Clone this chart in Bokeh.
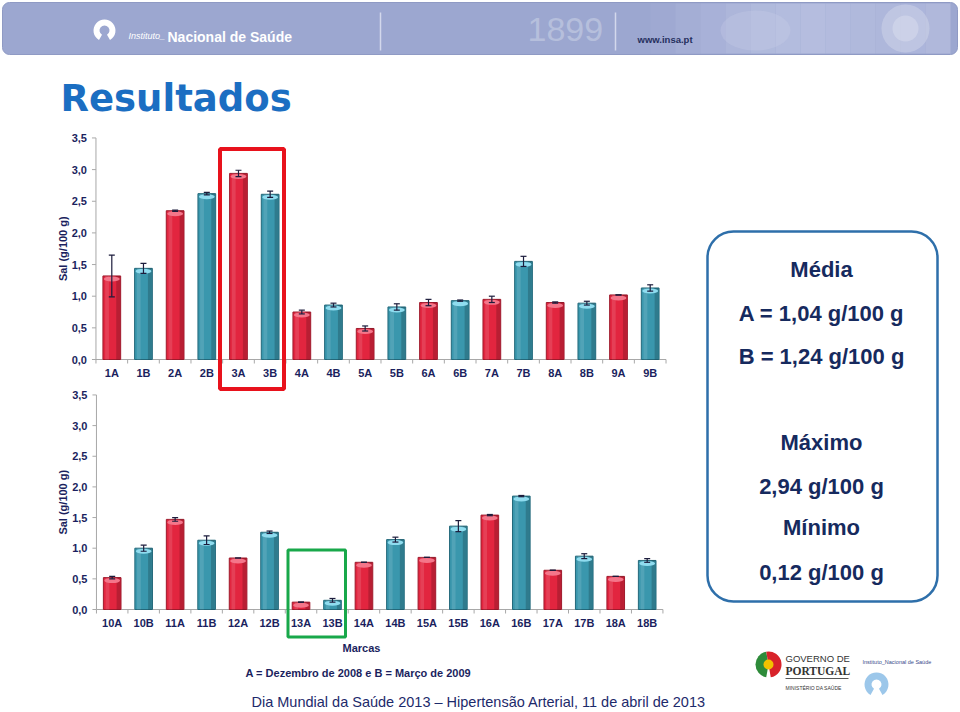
import math
from bokeh.plotting import figure
from bokeh.models import Range1d, BoxAnnotation
from bokeh.embed import file_html
from bokeh.resources import INLINE
from bokeh.core.properties import value

# ---------------- data ----------------
top_cats = ["1A", "1B", "2A", "2B", "3A", "3B", "4A", "4B", "5A", "5B",
            "6A", "6B", "7A", "7B", "8A", "8B", "9A", "9B"]
top_vals = [1.32, 1.44, 2.35, 2.62, 2.94, 2.61, 0.75, 0.86, 0.49, 0.83,
            0.90, 0.93, 0.95, 1.55, 0.90, 0.89, 1.02, 1.13]
top_errs = [0.33, 0.08, 0.01, 0.02, 0.05, 0.05, 0.03, 0.03, 0.04, 0.05,
            0.05, 0.01, 0.05, 0.08, 0.01, 0.03, 0.00, 0.05]

bot_cats = ["10A", "10B", "11A", "11B", "12A", "12B", "13A", "13B", "14A", "14B",
            "15A", "15B", "16A", "16B", "17A", "17B", "18A", "18B"]
bot_vals = [0.52, 1.00, 1.47, 1.13, 0.84, 1.26, 0.12, 0.15, 0.77, 1.14,
            0.85, 1.36, 1.54, 1.85, 0.64, 0.87, 0.54, 0.80]
bot_errs = [0.02, 0.05, 0.03, 0.07, 0.00, 0.02, 0.00, 0.03, 0.00, 0.04,
            0.00, 0.09, 0.01, 0.01, 0.00, 0.04, 0.00, 0.03]

y_ticks = [0.0, 0.5, 1.0, 1.5, 2.0, 2.5, 3.0, 3.5]
y_tick_labels = ["0,0", "0,5", "1,0", "1,5", "2,0", "2,5", "3,0", "3,5"]

y_label = "Sal (g/100 g)"
x_label = "Marcas"
note = "A = Dezembro de 2008 e B = Março de 2009"
footer = "Dia Mundial da Saúde 2013 \u2013 Hipertensão Arterial, 11 de abril de 2013"
box_lines = ["Média", "A = 1,04 g/100 g", "B = 1,24 g/100 g",
             "Máximo", "2,94 g/100 g", "Mínimo", "0,12 g/100 g"]

# ---------------- styles ----------------
RED, RED_EDGE, RED_CAP = "#e2253f", "#9e1a2c", "#f4768a"
TEAL, TEAL_EDGE, TEAL_CAP = "#3a97ad", "#23687a", "#8fdcef"
NAVY = "#1b1f5e"
AXIS = "#a8a8a8"
FONT = value("Liberation Sans")

PX0, PX1, PY0, PY1 = 0, 960, 0, 712
p = figure(width=960, height=712, output_backend="svg", toolbar_location=None,
           x_range=Range1d(PX0, PX1), y_range=Range1d(PY1, PY0),
           x_axis_location=None, y_axis_location=None, min_border=0)
p.grid.visible = False
p.outline_line_color = None
p.background_fill_color = "white"
p.border_fill_color = "white"

# ---------------- header banner ----------------
p.add_layout(BoxAnnotation(left=2, right=957, top=2, bottom=54, level="underlay",
                           fill_color="#9ca7d0", fill_alpha=1, line_color="#8f9ac4",
                           line_alpha=1, line_width=1, border_radius=7))
shades = ["#a0aad2", "#a5afd5", "#aab3d8", "#afb8da", "#b3bcdd", "#b6bfdf",
          "#b8c0e0", "#b6bedf", "#b3bbdd", "#b0b9dc", "#aeb7db", "#b2badc"]
for i, c in enumerate(shades):
    x0 = 650 + i * 25
    p.quad(left=[x0], right=[min(x0 + 25, 950)], top=[3], bottom=[53],
           fill_color=c, line_color=None, fill_alpha=0.9)
p.circle(x=[905], y=[28], radius=24, fill_color="#d4d9ec", fill_alpha=0.45, line_color=None)
p.circle(x=[905], y=[28], radius=13, fill_color="#e0e4f2", fill_alpha=0.4, line_color=None)
p.ellipse(x=[755], y=[30], width=70, height=40, fill_color="#cfd5ea", fill_alpha=0.25, line_color=None)
# logo
p.annular_wedge(x=[104], y=[30], inner_radius=5, outer_radius=11,
                start_angle=math.radians(-60), end_angle=math.radians(240),
                fill_color="white", line_color=None)
p.text(x=[128], y=[35], text=["Instituto_"], text_font=FONT, text_font_size="9px",
       text_font_style="italic", text_color="white", text_baseline="alphabetic")
p.text(x=[167], y=[36], text=["Nacional de Saúde"], text_font=FONT, text_font_size="14px",
       text_font_style="bold", text_color="white", text_baseline="alphabetic")
p.segment(x0=[380, 615], y0=[12, 12], x1=[380, 615], y1=[50, 50], line_color="#d3d8ec", line_width=1.5)
p.text(x=[527], y=[29], text=["1899"], text_font=FONT, text_font_size="34px",
       text_color="#b6bfdc", text_baseline="middle")
p.text(x=[637], y=[39], text=["www.insa.pt"], text_font=FONT, text_font_size="9.5px",
       text_font_style="bold", text_color="#26305e", text_baseline="middle")

# ---------------- title ----------------
p.text(x=[60], y=[98], text=["Resultados"], text_font=value("DejaVu Sans"), text_font_size="37px",
       text_font_style="bold", text_color="#1b6ec2", text_baseline="middle")


# ---------------- charts ----------------
def draw_chart(key, cats, vals, errs, x0, dx, y0, ys):
    xr, yr = key + "x", key + "y"
    p.extra_x_ranges = {**p.extra_x_ranges, xr: Range1d((PX0 - x0) / dx, (PX1 - x0) / dx)}
    p.extra_y_ranges = {**p.extra_y_ranges, yr: Range1d(-(PY1 - y0) / ys, (y0 - PY0) / ys)}
    kw = dict(x_range_name=xr, y_range_name=yr)
    n = len(cats)
    idx = list(range(n))
    isA = [c.endswith("A") for c in cats]
    fills = [RED if a else TEAL for a in isA]
    edges = [RED_EDGE if a else TEAL_EDGE for a in isA]
    caps = [RED_CAP if a else TEAL_CAP for a in isA]
    ymax = y_ticks[-1]

    # axes
    p.segment(x0=[-0.5], y0=[0], x1=[-0.5], y1=[ymax], line_color=AXIS, line_width=1, **kw)
    p.segment(x0=[-0.5], y0=[0], x1=[n - 0.5], y1=[0], line_color=AXIS, line_width=1, **kw)
    p.ray(x=[-0.5] * len(y_ticks), y=y_ticks, length=4, length_units="screen", angle=math.pi,
          line_color=AXIS, line_width=1, **kw)
    p.ray(x=[i - 0.5 for i in range(n + 1)], y=[0] * (n + 1), length=4, length_units="screen",
          angle=-math.pi / 2, line_color=AXIS, line_width=1, **kw)

    # bars
    p.vbar(x=idx, top=vals, bottom=0, width=0.56, fill_color=fills, line_color=edges,
           line_width=1, **kw)
    p.vbar(x=[i + 0.2 for i in idx], top=vals, bottom=0, width=0.12, fill_color="black",
           fill_alpha=0.18, line_color=None, **kw)
    p.vbar(x=[i - 0.15 for i in idx], top=vals, bottom=0, width=0.12, fill_color="white",
           fill_alpha=0.12, line_color=None, **kw)
    p.ellipse(x=idx, y=[v - 3 / ys for v in vals], width=0.5, height=5, height_units="screen",
              fill_color=caps, line_color=None, **kw)

    # error bars
    lo = [v - e for v, e in zip(vals, errs)]
    hi = [v + e for v, e in zip(vals, errs)]
    p.segment(x0=idx, y0=lo, x1=idx, y1=hi, line_color="#1c1c3c", line_width=1.2, **kw)
    p.scatter(x=idx + idx, y=lo + hi, marker="dash", size=6, line_color="#1c1c3c",
              line_width=1.2, **kw)

    # labels
    p.text(x=[-0.5] * len(y_ticks), y=y_ticks, text=y_tick_labels, x_offset=-9,
           text_font=FONT, text_font_size="11px", text_font_style="bold", text_color=NAVY,
           text_align="right", text_baseline="middle", **kw)
    p.text(x=idx, y=[0] * n, text=cats, y_offset=13, text_font=FONT, text_font_size="11px",
           text_font_style="bold", text_color=NAVY, text_align="center",
           text_baseline="middle", **kw)
    p.text(x=[-0.5], y=[ymax / 2], text=[y_label], x_offset=-33, angle=math.pi / 2,
           text_font=FONT, text_font_size="11px", text_font_style="bold", text_color=NAVY,
           text_align="center", text_baseline="middle", **kw)


draw_chart("t", top_cats, top_vals, top_errs, 111.3, 31.67, 359.0, 63.3)
draw_chart("b", bot_cats, bot_vals, bot_errs, 111.7, 31.47, 609.0, 61.3)

# highlight frames
p.add_layout(BoxAnnotation(left=219.5, right=283.5, top=148.5, bottom=388.5, fill_alpha=0,
                           line_color="#e8121c", line_alpha=1, line_width=4))
p.add_layout(BoxAnnotation(left=287.5, right=345, top=549.5, bottom=636.5, fill_alpha=0,
                           line_color="#18a84a", line_alpha=1, line_width=3))

# axis title + notes
p.text(x=[361], y=[647], text=[x_label], text_font=FONT, text_font_size="11px",
       text_font_style="bold", text_color=NAVY, text_align="center", text_baseline="middle")
p.text(x=[245], y=[672], text=[note], text_font=FONT, text_font_size="11px",
       text_font_style="bold", text_color=NAVY, text_align="left", text_baseline="middle")
p.text(x=[251], y=[701], text=[footer], text_font=FONT, text_font_size="14.5px",
       text_color="#1d2a6b", text_align="left", text_baseline="middle")

# ---------------- summary box ----------------
p.add_layout(BoxAnnotation(left=707, right=937, top=231, bottom=601, fill_alpha=0,
                           line_color="#2e6faa", line_alpha=1, line_width=2.5, border_radius=26))
p.text(x=[821] * len(box_lines), y=[269, 313, 356, 442, 486, 527, 572], text=box_lines,
       text_font=FONT, text_font_size="22px", text_font_style="bold", text_color="#162a5e",
       text_align="center", text_baseline="middle")

# ---------------- footer logos ----------------
p.wedge(x=[768], y=[664], radius=13, start_angle=math.radians(100), end_angle=math.radians(260),
        fill_color="#2e8b3a", line_color=None)
p.wedge(x=[768], y=[664], radius=13, start_angle=math.radians(-80), end_angle=math.radians(100),
        fill_color="#d8232a", line_color=None)
p.circle(x=[768], y=[664], radius=5, fill_color="#f2c200", line_color=None)
p.text(x=[785], y=[658], text=["GOVERNO DE"], text_font=FONT,
       text_font_size="9.5px", text_color="#333333", text_baseline="middle")
p.text(x=[785], y=[670], text=["PORTUGAL"], text_font=value("Liberation Serif"),
       text_font_size="11.5px", text_font_style="bold", text_color="#333333", text_baseline="middle")
p.segment(x0=[785], y0=[678], x1=[848], y1=[678], line_color="#555555", line_width=1)
p.text(x=[785], y=[687], text=["MINISTÉRIO DA SAÚDE"], text_font=FONT, text_font_size="5px",
       text_color="#333333", text_baseline="middle")
p.text(x=[862], y=[661], text=["Instituto_Nacional de Saúde"], text_font=FONT,
       text_font_size="5.5px", text_color="#3a4a8a", text_baseline="middle")
p.annular_wedge(x=[876], y=[684], inner_radius=5, outer_radius=12,
                start_angle=math.radians(-60), end_angle=math.radians(240),
                fill_color="#9cc7ea", line_color=None)

open("out.html", "w").write(file_html(p, INLINE))
